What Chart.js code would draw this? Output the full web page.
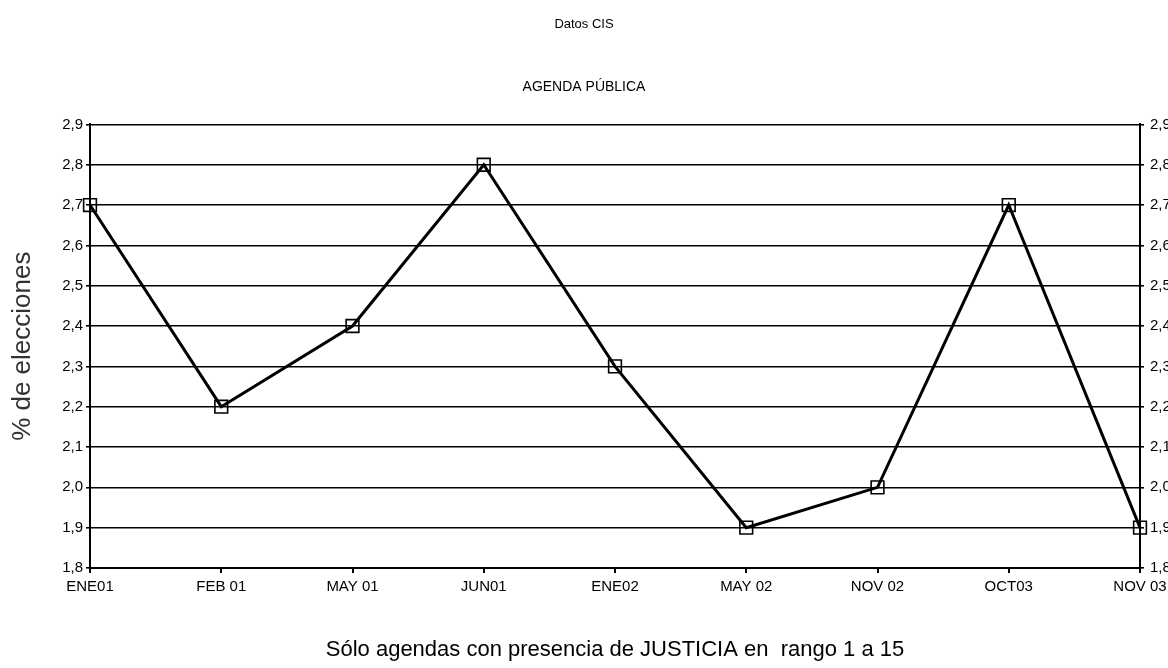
<!DOCTYPE html>
<html>
<head>
<meta charset="utf-8">
<script src="https://cdn.jsdelivr.net/npm/chart.js@4/dist/chart.umd.min.js"></script>
<style>
  html, body { margin: 0; padding: 0; background: #ffffff; overflow: hidden; }
  #wrap { position: relative; width: 1168px; height: 668px; }
</style>
</head>
<body>
<div id="wrap"><canvas id="c"></canvas></div>
<script>
const categories = ["ENE01", "FEB 01", "MAY 01", "JUN01", "ENE02", "MAY 02", "NOV 02", "OCT03", "NOV 03"];
const values = [2.7, 2.2, 2.4, 2.8, 2.3, 1.9, 2.0, 2.7, 1.9];
const yMin = 1.8;
const yMax = 2.9;
const yStep = 0.1;
const titleText = "Datos CIS";
const subtitleText = "AGENDA PÚBLICA";
const yTitle = "% de elecciones";
const xTitle = "Sólo agendas con presencia de JUSTICIA en  rango 1 a 15";

const FONT = "'Liberation Sans', Arial, Helvetica, sans-serif";
const fmt = v => Number(v).toFixed(1).replace('.', ',');

new Chart(document.getElementById('c'), {
  type: 'line',
  data: {
    labels: categories,
    datasets: [{
      data: values,
      borderColor: '#000000',
      borderWidth: 3,
      pointStyle: 'rect',
      pointRadius: 9,
      pointBorderWidth: 1.6,
      pointBorderColor: '#000000',
      pointBackgroundColor: 'rgba(0,0,0,0)',
      tension: 0,
      clip: false,
      yAxisID: 'y'
    }]
  },
  options: {
    responsive: true,
    maintainAspectRatio: false,
    animation: false,
    layout: { padding: 0 },
    plugins: {
      legend: { display: false },
      tooltip: { enabled: false },
      title: {
        display: true,
        text: titleText,
        color: '#000000',
        font: { family: FONT, size: 13, weight: 'normal' },
        padding: { top: 17, bottom: 46 }
      },
      subtitle: {
        display: true,
        text: subtitleText,
        color: '#000000',
        font: { family: FONT, size: 14, weight: 'normal' },
        padding: { top: 0, bottom: 29 }
      }
    },
    scales: {
      x: {
        type: 'category',
        offset: false,
        grid: { display: true, drawOnChartArea: false, drawTicks: true, tickLength: 5, lineWidth: 2, color: '#000000' },
        border: { display: true, color: '#000000', width: 2 },
        ticks: { color: '#000000', font: { family: FONT, size: 15 }, padding: 5, maxRotation: 0, autoSkip: false },
        title: {
          display: true,
          text: xTitle,
          color: '#000000',
          font: { family: FONT, size: 22, weight: 'normal' },
          padding: { top: 0, bottom: 5 }
        },
        afterFit: s => { s.height = 100; s.paddingLeft = 0; s.paddingRight = 0; }
      },
      y: {
        position: 'left',
        min: yMin,
        max: yMax,
        grid: { display: true, drawOnChartArea: true, drawTicks: true, tickLength: 4, lineWidth: 1.6, color: '#000000' },
        border: { display: true, color: '#000000', width: 2 },
        ticks: { stepSize: yStep, color: '#000000', font: { family: FONT, size: 15 }, padding: 3, callback: v => fmt(v) },
        title: {
          display: true,
          text: yTitle,
          color: '#333333',
          font: { family: FONT, size: 26, weight: 'normal' },
          padding: { top: 7, bottom: 0 }
        },
        afterFit: s => { s.width = 90; }
      },
      y2: {
        position: 'right',
        min: yMin,
        max: yMax,
        grid: { display: true, drawOnChartArea: false, drawTicks: true, tickLength: 4, lineWidth: 1.6, color: '#000000' },
        border: { display: true, color: '#000000', width: 2 },
        ticks: { stepSize: yStep, color: '#000000', font: { family: FONT, size: 15 }, padding: 6, callback: v => fmt(v) },
        afterFit: s => { s.width = 28; }
      }
    }
  }
});
</script>
</body>
</html>
